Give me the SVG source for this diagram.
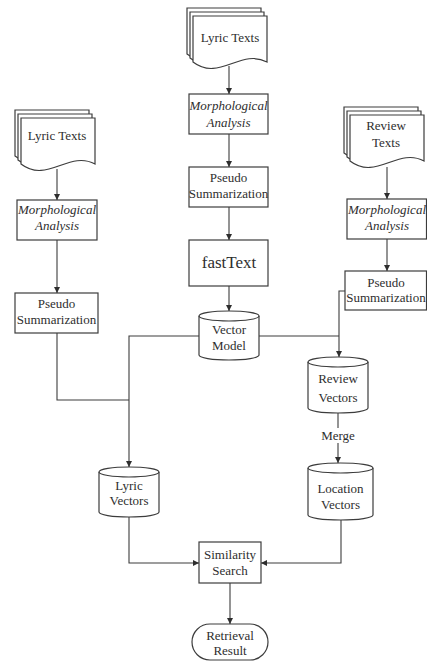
<svg xmlns="http://www.w3.org/2000/svg" width="427" height="661" viewBox="0 0 427 661">
<style>
.s{fill:#fff;stroke:#3c3c3c;stroke-width:1.2}
.c{fill:none;stroke:#3c3c3c;stroke-width:1.1}
text{font-family:"Liberation Serif","DejaVu Serif",serif;font-size:13px;fill:#2e2e2e;text-anchor:middle}
.i{font-style:italic}
</style>
<defs>
<marker id="a" markerUnits="userSpaceOnUse" markerWidth="8" markerHeight="8" refX="6" refY="3" orient="auto">
<path d="M0,0 L6,3 L0,6 Z" fill="#2e2e2e"/>
</marker>
<path id="doc" d="M0,0 H74 V46 C48,32 26,66 0,46 Z"/>
</defs>
<rect width="427" height="661" fill="#fff"/>

<g id="connectors">
<path class="c" d="M229,66 V94" marker-end="url(#a)"/>
<path class="c" d="M229,134 V167" marker-end="url(#a)"/>
<path class="c" d="M229,207 V240" marker-end="url(#a)"/>
<path class="c" d="M229,286 V311" marker-end="url(#a)"/>
<path class="c" d="M57,169 V200" marker-end="url(#a)"/>
<path class="c" d="M57,240 V293" marker-end="url(#a)"/>
<path class="c" d="M57,333 V400 H129"/>
<path class="c" d="M199,336 H129 V467" marker-end="url(#a)"/>
<path class="c" d="M387,167 V199" marker-end="url(#a)"/>
<path class="c" d="M387,239 V271" marker-end="url(#a)"/>
<path class="c" d="M345,291 H339 V357" marker-end="url(#a)"/>
<path class="c" d="M259,336 H339"/>
<path class="c" d="M338,413 V428"/>
<path class="c" d="M338,443 V463" marker-end="url(#a)"/>
<path class="c" d="M129,517 V563 H199" marker-end="url(#a)"/>
<path class="c" d="M341,520 V563 H261" marker-end="url(#a)"/>
<path class="c" d="M230,583 V624" marker-end="url(#a)"/>
<text x="338" y="440">Merge</text>
</g>

<g id="lyric-texts-top">
<use href="#doc" class="s" x="187" y="8"/>
<use href="#doc" class="s" x="190" y="12"/>
<use href="#doc" class="s" x="193" y="16"/>
<text x="230" y="42">Lyric Texts</text>
</g>
<g id="morph-center">
<rect class="s" x="189" y="94" width="79" height="40"/>
<text class="i" x="228.5" y="109.5">Morphological</text>
<text class="i" x="228.5" y="126.5">Analysis</text>
</g>
<g id="pseudo-center">
<rect class="s" x="189" y="167" width="79" height="40"/>
<text x="228.5" y="181.5">Pseudo</text>
<text x="228.5" y="197.5">Summarization</text>
</g>
<g id="fasttext">
<rect class="s" x="189" y="240" width="79" height="46"/>
<text x="229" y="268" style="font-size:17px">fastText</text>
</g>
<g id="vector-model">
<path class="s" d="M199,316 A30,5 0 0 1 259,316 V355 A30,5 0 0 1 199,355 Z"/>
<path class="c" d="M199,316 A30,5 0 0 0 259,316"/>
<text x="229" y="333.5">Vector</text>
<text x="229" y="349.5">Model</text>
</g>

<g id="lyric-texts-left">
<use href="#doc" class="s" x="15" y="110"/>
<use href="#doc" class="s" x="18" y="114"/>
<use href="#doc" class="s" x="21" y="118"/>
<text x="57" y="140">Lyric Texts</text>
</g>
<g id="morph-left">
<rect class="s" x="17" y="200" width="80" height="40"/>
<text class="i" x="57" y="213.5">Morphological</text>
<text class="i" x="57" y="229.5">Analysis</text>
</g>
<g id="pseudo-left">
<rect class="s" x="15" y="293" width="83" height="40"/>
<text x="56.5" y="307.5">Pseudo</text>
<text x="56.5" y="323.5">Summarization</text>
</g>

<g id="review-texts">
<use href="#doc" class="s" x="344" y="107"/>
<use href="#doc" class="s" x="347" y="111"/>
<use href="#doc" class="s" x="350" y="115"/>
<text x="386" y="129.5">Review</text>
<text x="386" y="146.5">Texts</text>
</g>
<g id="morph-right">
<rect class="s" x="347" y="199" width="79.5" height="40"/>
<text class="i" x="387" y="213.5">Morphological</text>
<text class="i" x="387" y="229.5">Analysis</text>
</g>
<g id="pseudo-right">
<rect class="s" x="345" y="271" width="81.5" height="39"/>
<text x="386" y="286.5">Pseudo</text>
<text x="386" y="301.5">Summarization</text>
</g>
<g id="review-vectors">
<path class="s" d="M308,362 A30,5 0 0 1 368,362 V408 A30,5 0 0 1 308,408 Z"/>
<path class="c" d="M308,362 A30,5 0 0 0 368,362"/>
<text x="338" y="382.5">Review</text>
<text x="338" y="401.5">Vectors</text>
</g>
<g id="location-vectors">
<path class="s" d="M308,468 A32.5,5 0 0 1 373,468 V515 A32.5,5 0 0 1 308,515 Z"/>
<path class="c" d="M308,468 A32.5,5 0 0 0 373,468"/>
<text x="340.5" y="492.5">Location</text>
<text x="340.5" y="508.5">Vectors</text>
</g>
<g id="lyric-vectors">
<path class="s" d="M99,472 A30,5 0 0 1 159,472 V512 A30,5 0 0 1 99,512 Z"/>
<path class="c" d="M99,472 A30,5 0 0 0 159,472"/>
<text x="129" y="489.5">Lyric</text>
<text x="129" y="504.5">Vectors</text>
</g>
<g id="similarity-search">
<rect class="s" x="199" y="542" width="62" height="41"/>
<text x="230" y="558.5">Similarity</text>
<text x="230" y="574.5">Search</text>
</g>
<g id="retrieval-result">
<rect class="s" x="192" y="624" width="76" height="36" rx="18" ry="18"/>
<text x="230" y="639.5">Retrieval</text>
<text x="230" y="654.5">Result</text>
</g>
</svg>
